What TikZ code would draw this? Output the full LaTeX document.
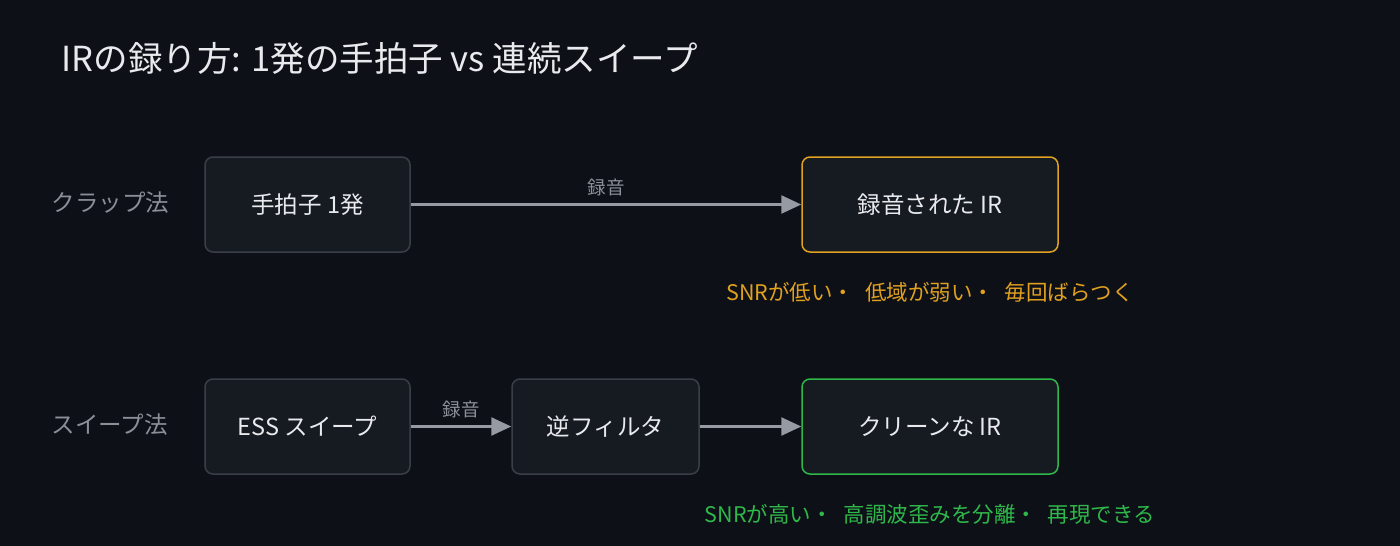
\documentclass[tikz,border=0pt]{standalone}
\usepackage{fontspec}
\setmainfont{Noto Sans CJK JP}
\usetikzlibrary{arrows.meta}
\definecolor{bg}{HTML}{0D1017}
\definecolor{boxf}{HTML}{161A21}
\definecolor{boxd}{HTML}{3A3F47}
\definecolor{org}{HTML}{E0A020}
\definecolor{grn}{HTML}{2FB84A}
\definecolor{txt}{HTML}{E8EAED}
\definecolor{lab}{HTML}{8A8F98}
\begin{document}
\begin{tikzpicture}[x=1pt,y=-1pt,
  box/.style={draw=boxd,line width=1.5pt,fill=boxf,rounded corners=8pt,text=txt,font=\fontsize{23.5}{27}\selectfont},
  row/.style={text=lab,font=\fontsize{23.5}{27}\selectfont,anchor=west},
  arr/.style={draw=lab!90,line width=2.5pt,-{Triangle[length=20pt,width=18pt]}},
  elab/.style={text=lab,font=\fontsize{18.5}{21}\selectfont,above=4pt},
  note/.style={font=\fontsize{21.5}{25}\selectfont}]
\fill[bg] (0,0) rectangle (1400,546);
\useasboundingbox (0,0) rectangle (1400,546);
\node[anchor=west,text=txt,font=\fontsize{34.5}{40}\selectfont] (title) at (58,58) {IRの録り方: 1発の手拍子 vs 連続スイープ};
\node[row] (r1) at (48,203) {クラップ法};
\node[row] (r2) at (48,425) {スイープ法};
\node[box,minimum width=205pt,minimum height=95pt] (clap) at (307.5,204.5) {手拍子 1発};
\node[box,draw=org,minimum width=256pt,minimum height=95pt] (rec) at (930,204.5) {録音された IR};
\node[box,minimum width=205pt,minimum height=95pt] (ess) at (307.5,426.5) {ESS スイープ};
\node[box,minimum width=187pt,minimum height=95pt] (inv) at (605.5,426.5) {逆フィルタ};
\node[box,draw=grn,minimum width=256pt,minimum height=95pt] (clean) at (930,426.5) {クリーンな IR};
\draw[arr] (clap) -- node[elab]{録音} (rec);
\draw[arr] (ess) -- node[elab]{録音} (inv);
\draw[arr] (inv) -- (clean);
\node[note,text=org] (n1) at (930,292) {SNRが低い・\enspace 低域が弱い・\enspace 毎回ばらつく};
\node[note,text=grn] (n2) at (930,514) {SNRが高い・\enspace 高調波歪みを分離・\enspace 再現できる};
\end{tikzpicture}
\end{document}
